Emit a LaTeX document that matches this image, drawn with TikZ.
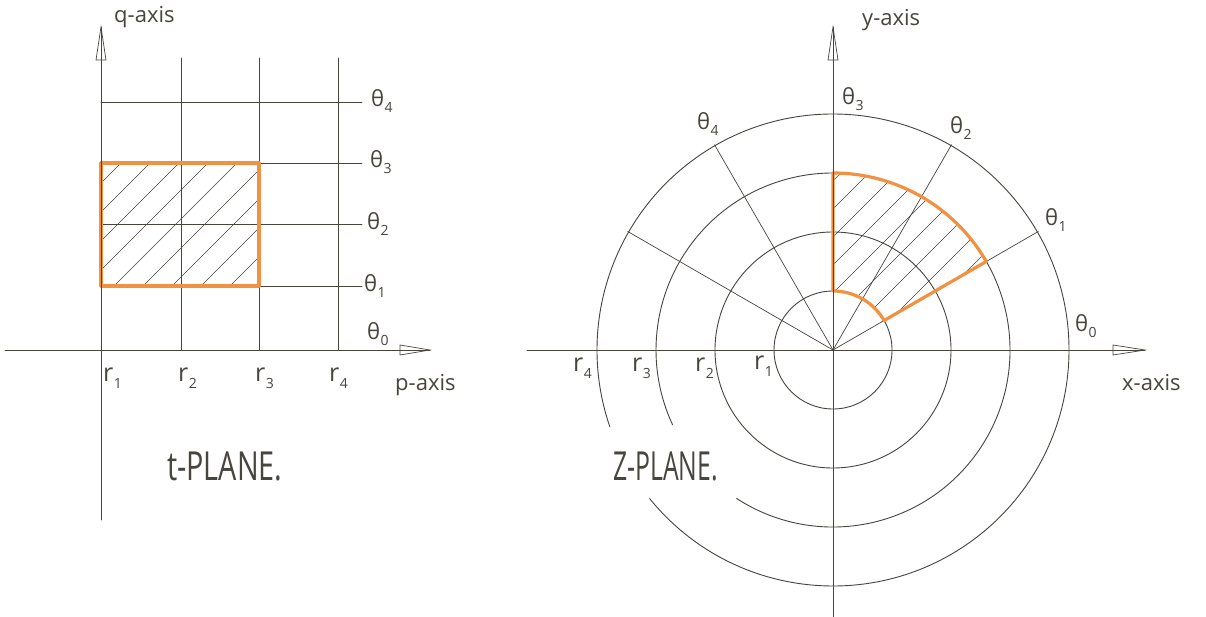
\documentclass[tikz,border=0pt]{standalone}
\usepackage{fontspec}
\setmainfont{Open Sans}
\definecolor{ink}{RGB}{72,68,62}
\definecolor{orng}{RGB}{240,146,66}
\newcommand{\thl}[1]{θ\kern0.5pt\raisebox{-0.5ex}{\fontsize{14}{14}\selectfont #1}}
\newcommand{\rlb}[1]{r\kern0.5pt\raisebox{-0.5ex}{\fontsize{14}{14}\selectfont #1}}
\begin{document}
\begin{tikzpicture}[x=1pt,y=-1pt,line cap=round,
  gridline/.style={draw=ink,line width=0.7pt},
  circ/.style={draw=ink,line width=0.9pt},
  hatch/.style={draw=ink,line width=0.5pt},
  region/.style={draw=orng,line width=3.2pt,line join=round},
  lbl/.style={text=ink,inner sep=0pt,font=\fontsize{22}{22}\selectfont},
  rlab/.style={text=ink,inner sep=0pt,font=\fontsize{25}{25}\selectfont},
  axlab/.style={text=ink,inner sep=0pt,font=\fontsize{22}{22}\selectfont},
  title/.style={text=ink,inner sep=0pt,font=\fontsize{40}{40}\selectfont}]
\useasboundingbox[fill=white] (0,0) rectangle (1206,617);

% ================= t-plane =================
\coordinate (qtop) at (101,27);
\coordinate (qbot) at (101,520);
\coordinate (pl) at (5,350);
\coordinate (pr) at (430,350);
% grid
\foreach \x in {181,259,338} \draw[gridline] (\x,58) -- (\x,350);
\foreach \y in {102,163,224,286} \draw[gridline] (101,\y) -- (362,\y);
% hatching
\begin{scope}
  \clip (101,163) rectangle (259,286);
  \foreach \c in {284,313,...,516} \draw[hatch] (\c-300,300) -- (\c-100,100);
\end{scope}
\draw[region] (101,163) rectangle (259,286);
% axes
\draw[gridline] (qbot) -- (qtop);
\draw[gridline] (96,60) -- (qtop) -- (106,60) -- cycle;
\draw[gridline] (pl) -- (pr);
\draw[gridline] (400,345) -- (pr) -- (400,355) -- cycle;
% labels
\node[lbl,anchor=west] (t4) at (371,101) {\thl{4}};
\node[lbl,anchor=west] (t3) at (370,162) {\thl{3}};
\node[lbl,anchor=west] (t2) at (367,224) {\thl{2}};
\node[lbl,anchor=west] (t1) at (364,286) {\thl{1}};
\node[lbl,anchor=west] (t0) at (367,334) {\thl{0}};
\node[rlab,anchor=west] (r1) at (103,378) {\rlb{1}};
\node[rlab,anchor=west] (r2) at (178,378) {\rlb{2}};
\node[rlab,anchor=west] (r3) at (255,378) {\rlb{3}};
\node[rlab,anchor=west] (r4) at (329,378) {\rlb{4}};
\node[axlab,anchor=west] (qlab) at (114,17) {q-axis};
\node[axlab,anchor=west] (plab) at (395,385) {p-axis};
\node[title,anchor=west] (tplane) at (167,466) {\scalebox{0.72}[1]{t-PLANE.}};

% ================= z-plane =================
\begin{scope}[shift={(833,350)},yscale=-1]
  \coordinate (O) at (0,0);
  % circles
  \draw[circ] (O) circle[radius=59];
  \draw[circ] (O) circle[radius=118];
  \draw[circ] (237:177) arc[start angle=237,end angle=565,radius=177];
  \draw[circ] (219:236) arc[start angle=219,end angle=559,radius=236];
  % radial lines
  \foreach \a in {30,60,120,150} \draw[gridline] (O) -- (\a:237);
  % hatching
  \begin{scope}
    \clip (90:59) -- (90:177) arc[start angle=90,end angle=30,radius=177]
      -- (30:59) arc[start angle=30,end angle=90,radius=59] -- cycle;
    \foreach \d in {-55,-27,...,170} \draw[hatch] (-250,\d-250) -- (250,\d+250);
  \end{scope}
  \draw[region] (90:59) -- (90:177) arc[start angle=90,end angle=30,radius=177]
      -- (30:59) arc[start angle=30,end angle=90,radius=59] -- cycle;
  % axes
  \coordinate (xl) at (-306,0);
  \coordinate (xr) at (312,0);
  \coordinate (yt) at (0,323);
  \coordinate (yb) at (0,-267);
  \draw[gridline] (xl) -- (xr);
  \draw[gridline] (280,5) -- (xr) -- (280,-5) -- cycle;
  \draw[gridline] (yb) -- (yt);
  \draw[gridline] (-5,290) -- (yt) -- (5,290) -- cycle;
\end{scope}
% labels
\node[lbl,anchor=west] (z3) at (842,99) {\thl{3}};
\node[lbl,anchor=west] (z4) at (697,124) {\thl{4}};
\node[lbl,anchor=west] (z2) at (950,128) {\thl{2}};
\node[lbl,anchor=west] (z1) at (1045,220) {\thl{1}};
\node[lbl,anchor=west] (z0) at (1075,326) {\thl{0}};
\node[rlab,anchor=west] (zr4) at (573,368) {\rlb{4}};
\node[rlab,anchor=west] (zr3) at (632,368) {\rlb{3}};
\node[rlab,anchor=west] (zr2) at (695,368) {\rlb{2}};
\node[rlab,anchor=west] (zr1) at (754,366) {\rlb{1}};
\node[axlab,anchor=west] (ylab) at (862,20) {y-axis};
\node[axlab,anchor=west] (xlab) at (1122,383) {x-axis};
\node[title,anchor=west] (zplane) at (613,466) {\scalebox{0.62}[1]{Z-PLANE.}};
\end{tikzpicture}
\end{document}
